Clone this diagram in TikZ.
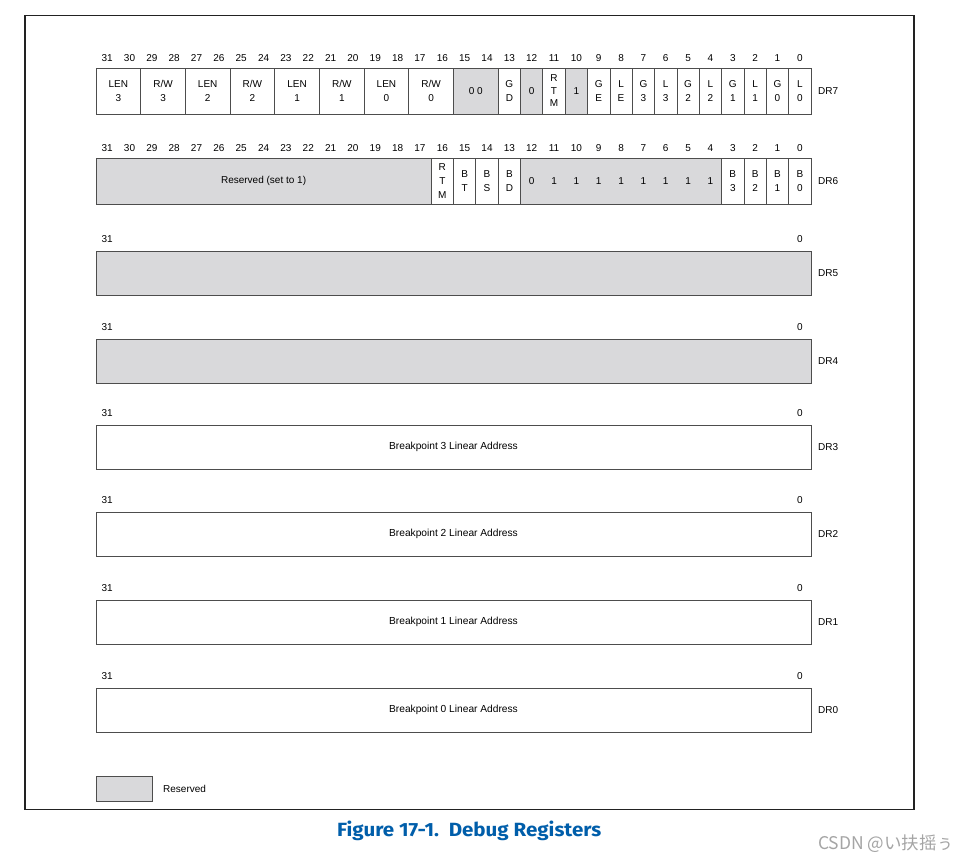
\documentclass[tikz,border=0pt]{standalone}
\usepackage{fontspec}
\usepackage{graphicx}
\setmainfont{Liberation Sans}
\newfontfamily\capfont{Fira Sans}
\newfontfamily\cjkfont{Noto Sans CJK SC}
\definecolor{resgray}{RGB}{217,217,219}
\definecolor{boxline}{RGB}{77,77,77}
\definecolor{framecol}{RGB}{34,34,34}
\definecolor{capblue}{RGB}{0,94,170}
\definecolor{wmgray}{RGB}{165,165,165}
\newcommand{\bw}{22.34375}
% \fld{name}{hi}{lo}{ytop}{ybot}{style}{text}
\newcommand{\fld}[7]{%
  \pgfmathsetmacro{\fx}{96+(31-#2)*\bw+(#2-#3+1)*\bw/2}%
  \pgfmathsetmacro{\fw}{(#2-#3+1)*\bw}%
  \pgfmathsetmacro{\fy}{(#4+#5)/2}%
  \pgfmathsetmacro{\fh}{#5-#4}%
  \node[#6, minimum width=\fw pt, minimum height=\fh pt] (#1) at (\fx,\fy) {#7};}
\begin{document}
\begin{tikzpicture}[x=1pt,y=-1pt,
  field/.style={draw=boxline, line width=0.8pt, fill=white, inner sep=0pt, outer sep=0pt,
    align=center, font=\fontsize{10}{14}\selectfont},
  resv/.style={field, fill=resgray},
  rtm/.style={field, font=\fontsize{10}{12.5}\selectfont},
  bitnum/.style={inner sep=0pt, font=\fontsize{10}{11}\selectfont},
  val/.style={inner sep=0pt, font=\fontsize{10}{11}\selectfont},
  reglabel/.style={anchor=west, inner sep=0pt, font=\fontsize{10}{11}\selectfont},
  wide/.style={draw=boxline, line width=0.8pt, inner sep=0pt, outer sep=0pt,
    minimum width=715pt, minimum height=44pt, font=\fontsize{10.2}{11}\selectfont}]
\useasboundingbox (0,0) rectangle (967,859);
\fill[white] (0,0) rectangle (967,859);
% outer frame
\node[draw=framecol, line width=1.8pt, minimum width=889pt, minimum height=794pt, inner sep=0pt] (frame) at (469.5,412.5) {};

% ---------- DR7 ----------
\foreach \b in {0,...,31}{
  \node[bitnum] (n7-\b) at ({96+(31-\b+0.5)*\bw},58) {\b};
}
\fld{len3}{31}{30}{68}{114}{field}{LEN\\3}
\fld{rw3}{29}{28}{68}{114}{field}{R/W\\3}
\fld{len2}{27}{26}{68}{114}{field}{LEN\\2}
\fld{rw2}{25}{24}{68}{114}{field}{R/W\\2}
\fld{len1}{23}{22}{68}{114}{field}{LEN\\1}
\fld{rw1}{21}{20}{68}{114}{field}{R/W\\1}
\fld{len0}{19}{18}{68}{114}{field}{LEN\\0}
\fld{rw0}{17}{16}{68}{114}{field}{R/W\\0}
\fld{d7r1514}{15}{14}{68}{114}{resv}{0 0}
\fld{gd}{13}{13}{68}{114}{field}{G\\D}
\fld{d7r12}{12}{12}{68}{114}{resv}{0}
\fld{rtm7}{11}{11}{68}{114}{rtm}{R\\T\\M}
\fld{d7r10}{10}{10}{68}{114}{resv}{1}
\fld{ge}{9}{9}{68}{114}{field}{G\\E}
\fld{le}{8}{8}{68}{114}{field}{L\\E}
\fld{g3}{7}{7}{68}{114}{field}{G\\3}
\fld{l3}{6}{6}{68}{114}{field}{L\\3}
\fld{g2}{5}{5}{68}{114}{field}{G\\2}
\fld{l2}{4}{4}{68}{114}{field}{L\\2}
\fld{g1}{3}{3}{68}{114}{field}{G\\1}
\fld{l1}{2}{2}{68}{114}{field}{L\\1}
\fld{g0}{1}{1}{68}{114}{field}{G\\0}
\fld{l0}{0}{0}{68}{114}{field}{L\\0}
\node[reglabel] (lab7) at (818,91) {DR7};

% ---------- DR6 ----------
\foreach \b in {0,...,31}{
  \node[bitnum] (n6-\b) at ({96+(31-\b+0.5)*\bw},148) {\b};
}
\fld{d6res}{31}{17}{158}{204}{resv}{Reserved (set to 1)}
\fld{rtm6}{16}{16}{158}{204}{field}{R\\T\\M}
\fld{bt}{15}{15}{158}{204}{field}{B\\T}
\fld{bs}{14}{14}{158}{204}{field}{B\\S}
\fld{bd}{13}{13}{158}{204}{field}{B\\D}
\fld{d6mid}{12}{4}{158}{204}{resv}{}
\node[val] (v6-12) at ({96+(31-12+0.5)*\bw},181) {0};
\foreach \b in {4,...,11}{
  \node[val] (v6-\b) at ({96+(31-\b+0.5)*\bw},181) {1};
}
\fld{b3}{3}{3}{158}{204}{field}{B\\3}
\fld{b2}{2}{2}{158}{204}{field}{B\\2}
\fld{b1}{1}{1}{158}{204}{field}{B\\1}
\fld{b0}{0}{0}{158}{204}{field}{B\\0}
\node[reglabel] (lab6) at (818,181) {DR6};

% ---------- DR5 .. DR0 ----------
\foreach \r/\yc/\st/\txt in {5/273/resgray/{},4/361/resgray/{},
    3/447/white/{Breakpoint 3 Linear Address},
    2/534/white/{Breakpoint 2 Linear Address},
    1/622/white/{Breakpoint 1 Linear Address},
    0/710/white/{Breakpoint 0 Linear Address}}{
  \node[wide, fill=\st] (dr\r) at (453.5,\yc) {\txt};
  \node[bitnum] (hi\r) at ({96+0.5*\bw},\yc-34) {31};
  \node[bitnum] (lo\r) at ({96+31.5*\bw},\yc-34) {0};
  \node[reglabel] (lab\r) at (818,\yc) {DR\r};
}

% ---------- legend ----------
\node[draw=boxline, line width=0.8pt, fill=resgray, minimum width=56pt, minimum height=25pt, inner sep=0pt] (leg) at (124,788.5) {};
\node[anchor=west, inner sep=0pt, font=\fontsize{10}{11}\selectfont] (legt) at (163,789) {Reserved};

% ---------- caption ----------
\node[anchor=base west, inner sep=0pt, text=capblue] (cap) at (337,836)
  {\resizebox{264pt}{15.5pt}{\capfont\bfseries Figure 17-1.\ \ Debug Registers}};
\node[anchor=base west, inner sep=0pt, text=wmgray, font=\cjkfont\fontsize{17.5}{19}\selectfont] (wm) at (818,849)
  {CSDN @い扶摇ぅ};
\end{tikzpicture}
\end{document}
